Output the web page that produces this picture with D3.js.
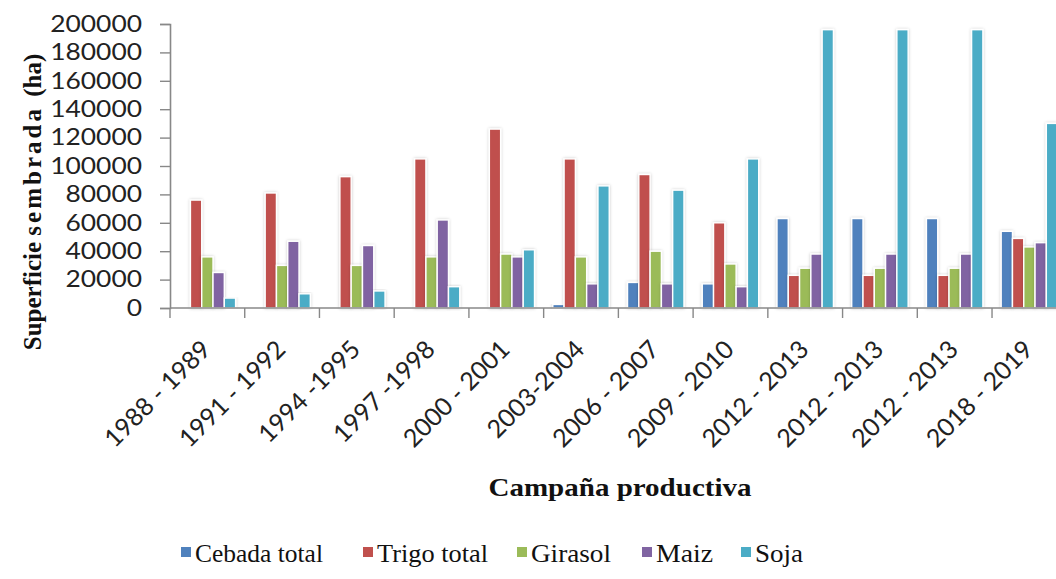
<!DOCTYPE html>
<html>
<head>
<meta charset="utf-8">
<script src="https://cdn.jsdelivr.net/npm/d3@7"></script>
<style>
  html, body { margin: 0; padding: 0; background: #fff; }
  svg { display: block; }
</style>
</head>
<body>
<svg id="chart" width="1056" height="579"></svg>
<script>
const categories = ["1988 - 1989", "1991 - 1992", "1994 -1995", "1997 -1998", "2000 - 2001", "2003-2004",
                    "2006 - 2007", "2009 - 2010", "2012 - 2013", "2012 - 2013", "2012 - 2013", "2018 - 2019"];
const seriesNames = ["Cebada total", "Trigo total", "Girasol", "Maiz", "Soja"];
const cebada = [0, 0, 0, 0, 0, 2500, 18000, 17000, 63000, 63000, 63000, 54000];
const trigo  = [76000, 81000, 92500, 105000, 126000, 105000, 94000, 60000, 23000, 23000, 23000, 49000];
const girasol = [36000, 30000, 30000, 36000, 38000, 36000, 40000, 31000, 28000, 28000, 28000, 43000];
const maiz   = [25000, 47000, 44000, 62000, 36000, 17000, 17000, 15000, 38000, 38000, 38000, 46000];
const soja   = [7000, 10000, 12000, 15000, 41000, 86000, 83000, 105000, 196000, 196000, 196000, 130000];
const seriesColors = ["#4F81BD", "#C0504D", "#9BBB59", "#8064A2", "#4BACC6"];
const yTicks = [0, 20000, 40000, 60000, 80000, 100000, 120000, 140000, 160000, 180000, 200000];
const legendWidths = [128, 111, 80, 57, 48];

const allSeries = [cebada, trigo, girasol, maiz, soja];
const svg = d3.select("#chart");

const defs = svg.append("defs");
const f = defs.append("filter").attr("id", "shadow").attr("x", "-50%").attr("y", "-10%").attr("width", "200%").attr("height", "120%");
f.append("feDropShadow").attr("dx", 0).attr("dy", 0).attr("stdDeviation", 1.6)
  .attr("flood-color", "#000").attr("flood-opacity", 0.22);

const x0 = 170, yTop = 24, yBot = 308, band = 74.73;
const x = d3.scaleBand().domain(d3.range(categories.length))
  .range([x0, x0 + band * categories.length]).paddingInner(0).paddingOuter(0);
const y = d3.scaleLinear().domain([0, 200000]).range([yBot, yTop]);

const gapFrac = 1.62;
const x1 = d3.scaleBand().domain(d3.range(5))
  .range([band * gapFrac / (5 + gapFrac) / 2, band - band * gapFrac / (5 + gapFrac) / 2]).padding(0);

// bars
const groups = svg.append("g").selectAll("g").data(categories).join("g")
  .attr("transform", (d, i) => `translate(${x(i)},0)`);
groups.selectAll("rect")
  .data((d, i) => allSeries.map((s, k) => ({ k, v: s[i] })))
  .join("rect")
  .attr("x", d => x1(d.k))
  .attr("width", x1.bandwidth())
  .attr("y", d => y(d.v))
  .attr("height", d => yBot - y(d.v))
  .attr("fill", d => seriesColors[d.k])
  .attr("stroke", "#fff")
  .attr("stroke-width", 1.4)
  .attr("filter", "url(#shadow)")
  .style("display", d => d.v > 0 ? null : "none");

// y axis
const yAxis = d3.axisLeft(y).tickValues(yTicks).tickSize(10).tickPadding(18).tickFormat(d3.format("d"));
const gy = svg.append("g").attr("transform", `translate(${x0},0)`).call(yAxis);
gy.select(".domain").attr("stroke", "#888").attr("stroke-width", 1.6);
gy.selectAll(".tick line").attr("stroke", "#888").attr("stroke-width", 1.4);
gy.selectAll(".tick text").attr("font-family", "Lato").attr("font-size", 23).attr("fill", "#222")
  .attr("textLength", d => String(d).length * 15.3).attr("lengthAdjust", "spacingAndGlyphs");

// x axis
const xAxisG = svg.append("g").attr("transform", `translate(0,${yBot})`);
xAxisG.append("line").attr("x1", x0).attr("x2", 1056).attr("y1", 0).attr("y2", 0)
  .attr("stroke", "#888").attr("stroke-width", 1.6);
xAxisG.selectAll("line.tk").data(d3.range(categories.length)).join("line").attr("class", "tk")
  .attr("x1", i => x(i)).attr("x2", i => x(i)).attr("y1", 0).attr("y2", 10)
  .attr("stroke", "#888").attr("stroke-width", 1.4);
svg.append("g").selectAll("text").data(categories).join("text")
  .attr("transform", (d, i) => `translate(${x(i) + band / 2 + 5},${351}) rotate(-45)`)
  .attr("text-anchor", "end")
  .attr("font-family", "Lato").attr("font-size", 25).attr("fill", "#222")
  .text(d => d);

// axis titles
const yt = svg.append("text")
  .attr("transform", "translate(41,202) rotate(-90)")
  .attr("text-anchor", "middle")
  .attr("font-family", "Liberation Serif").attr("font-weight", "bold").attr("font-size", 25).attr("fill", "#111");
yt.append("tspan").text("Superficie ");
yt.append("tspan").attr("letter-spacing", 3).text("sembrada ");
yt.append("tspan").text(" (ha)");

svg.append("text")
  .attr("x", 620).attr("y", 496)
  .attr("text-anchor", "middle")
  .attr("font-family", "Liberation Serif").attr("font-weight", "bold").attr("font-size", 25).attr("fill", "#111")
  .attr("textLength", 263).attr("lengthAdjust", "spacingAndGlyphs")
  .text("Campaña  productiva");

// legend
const legendX = [181, 363, 517, 642, 741];
const lg = svg.append("g").selectAll("g").data(seriesNames).join("g")
  .attr("transform", (d, i) => `translate(${legendX[i]},0)`);
lg.append("rect").attr("x", 0).attr("y", 547).attr("width", 10).attr("height", 10)
  .attr("fill", (d, i) => seriesColors[i]);
lg.append("text").attr("x", 14).attr("y", 562)
  .attr("font-family", "Liberation Serif").attr("font-size", 26).attr("fill", "#111")
  .attr("textLength", (d, i) => legendWidths[i]).attr("lengthAdjust", "spacingAndGlyphs")
  .text(d => d);
</script>
</body>
</html>
